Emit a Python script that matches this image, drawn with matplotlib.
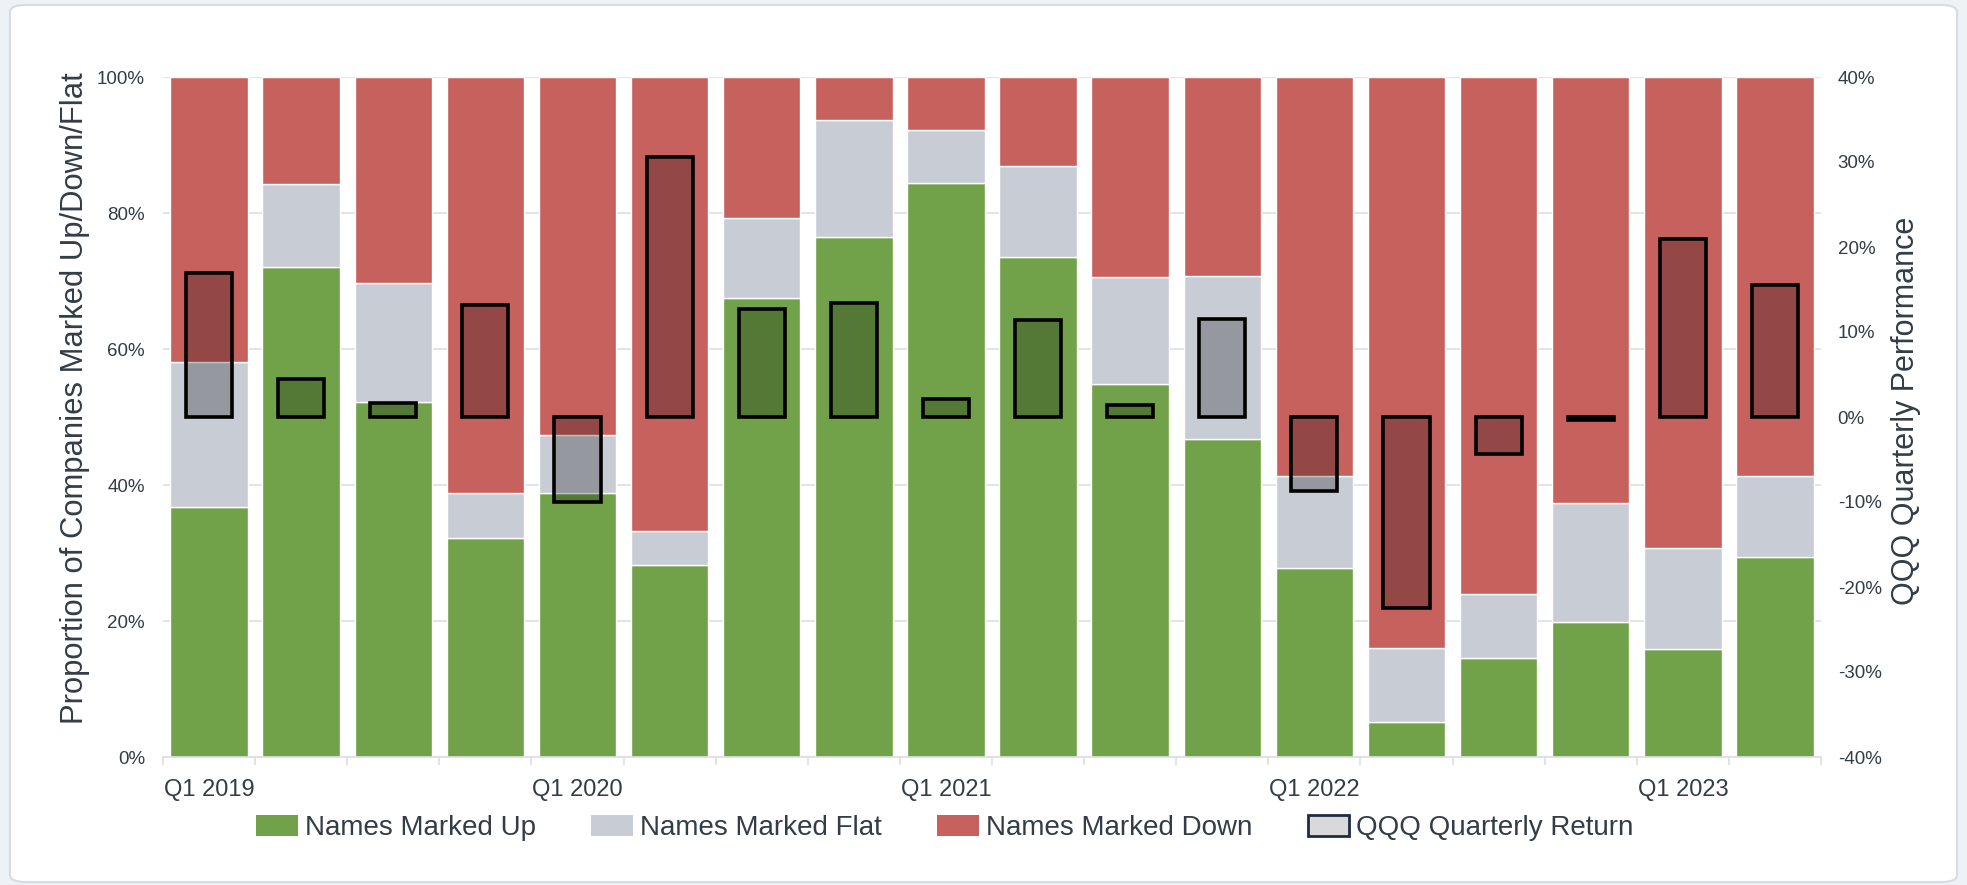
import matplotlib
matplotlib.use("Agg")
import matplotlib.pyplot as plt
from matplotlib.patches import Patch, FancyBboxPatch
from matplotlib.ticker import FixedLocator, FuncFormatter
import numpy as np

plt.rcParams["font.family"] = ["Liberation Sans", "DejaVu Sans"]

quarters = ["Q1 2019", "Q2 2019", "Q3 2019", "Q4 2019",
            "Q1 2020", "Q2 2020", "Q3 2020", "Q4 2020",
            "Q1 2021", "Q2 2021", "Q3 2021", "Q4 2021",
            "Q1 2022", "Q2 2022", "Q3 2022", "Q4 2022",
            "Q1 2023", "Q2 2023"]
# share of companies (%)
marked_up = [36.8, 72.1, 52.2, 32.2, 38.8, 28.2, 67.5, 76.5, 84.4,
             73.5, 54.9, 46.7, 27.8, 5.2, 14.6, 19.9, 15.9, 29.4]
marked_flat = [21.3, 12.1, 17.5, 6.6, 8.6, 5.0, 11.7, 17.2, 7.8,
               13.4, 15.7, 24.0, 13.5, 10.8, 9.4, 17.4, 14.8, 11.9]
marked_down = [100 - u - f for u, f in zip(marked_up, marked_flat)]
# QQQ quarterly return (%)
qqq_return = [16.9, 4.5, 1.6, 13.2, -10.0, 30.6, 12.7, 13.4, 2.1,
              11.4, 1.4, 11.5, -8.7, -22.5, -4.3, -0.3, 21.0, 15.5]

GREEN = "#71a148"
GREY = "#c8ccd4"
RED = "#c6615d"
TEXT = "#333d47"
LIGHT = "#dcdfe3"

fig = plt.figure(figsize=(19.67, 8.85), dpi=100, facecolor="#eef1f5")
panel = FancyBboxPatch((10 / 1967, 3 / 885), 1947 / 1967, 877 / 885,
                       boxstyle="round,pad=0,rounding_size=0.008",
                       transform=fig.transFigure, facecolor="white",
                       edgecolor="#d6dce3", linewidth=1.5, zorder=-5)
fig.patches.append(panel)

ax = fig.add_axes([163 / 1967, 1 - 757 / 885, (1821 - 163) / 1967, 680 / 885])
ax.set_facecolor("none")
x = np.arange(len(quarters))
w = 0.84
ax.bar(x, marked_up, w, color=GREEN, edgecolor="white", linewidth=1, zorder=2)
ax.bar(x, marked_flat, w, bottom=marked_up, color=GREY, edgecolor="white",
       linewidth=1, zorder=2)
ax.bar(x, marked_down, w, bottom=np.add(marked_up, marked_flat), color=RED,
       edgecolor="white", linewidth=1, zorder=2)

ax.set_xlim(-0.5, len(quarters) - 0.5)
ax.set_ylim(0, 100)
ax.set_yticks([0, 20, 40, 60, 80, 100])
ax.yaxis.set_major_formatter(FuncFormatter(lambda v, p: f"{v:.0f}%"))
ax.grid(axis="y", color="#e2e4e7", linewidth=1.5, zorder=0)
ax.set_axisbelow(True)

label_pos = [i for i, q in enumerate(quarters) if q.startswith("Q1")]
ax.set_xticks(label_pos)
ax.set_xticklabels([quarters[i] for i in label_pos])
ax.xaxis.set_minor_locator(FixedLocator(np.arange(len(quarters) + 1) - 0.5))
ax.tick_params(axis="x", which="major", length=0, pad=16, labelsize=17, labelcolor=TEXT)
ax.tick_params(axis="x", which="minor", length=6, width=1.2, color=LIGHT)
ax.tick_params(axis="y", length=0, pad=13, labelsize=13.5, labelcolor=TEXT)
for s in ["top", "right", "left"]:
    ax.spines[s].set_visible(False)
ax.spines["bottom"].set_color(LIGHT)
ax.spines["bottom"].set_linewidth(1.2)
ax.set_ylabel("Proportion of Companies Marked Up/Down/Flat", fontsize=22.3,
              color=TEXT, va="center")
ax.yaxis.set_label_coords(-0.053, 0.528)

ax2 = ax.twinx()
ax2.bar(x, qqq_return, 0.5, color=(0, 0, 0, 0.25), edgecolor="black",
        linewidth=2.6, zorder=3)
ax2.set_ylim(-40, 40)
ax2.set_yticks(np.arange(-40, 41, 10))
ax2.yaxis.set_major_formatter(FuncFormatter(lambda v, p: f"{v:.0f}%"))
ax2.tick_params(axis="y", length=0, pad=12, labelsize=13.5, labelcolor=TEXT)
for s in ["top", "right", "left", "bottom"]:
    ax2.spines[s].set_visible(False)
ax2.set_ylabel("QQQ Quarterly Performance", fontsize=22, color=TEXT, va="center")
ax2.yaxis.set_label_coords(1.051, 0.509)

handles = [Patch(facecolor=GREEN, label="Names Marked Up"),
           Patch(facecolor=GREY, label="Names Marked Flat"),
           Patch(facecolor=RED, label="Names Marked Down"),
           Patch(facecolor="#d9d9d9", edgecolor="#1f2a44", linewidth=2,
                 label="QQQ Quarterly Return")]
leg = fig.legend(handles=handles, loc="center", ncol=4, frameon=False,
                 bbox_to_anchor=(945 / 1967, 1 - 828 / 885), fontsize=20,
                 handlelength=1.5, handleheight=0.8, handletextpad=0.25,
                 columnspacing=2.0)
for t in leg.get_texts():
    t.set_color(TEXT)

fig.savefig("out.png", dpi=100, facecolor=fig.get_facecolor())
